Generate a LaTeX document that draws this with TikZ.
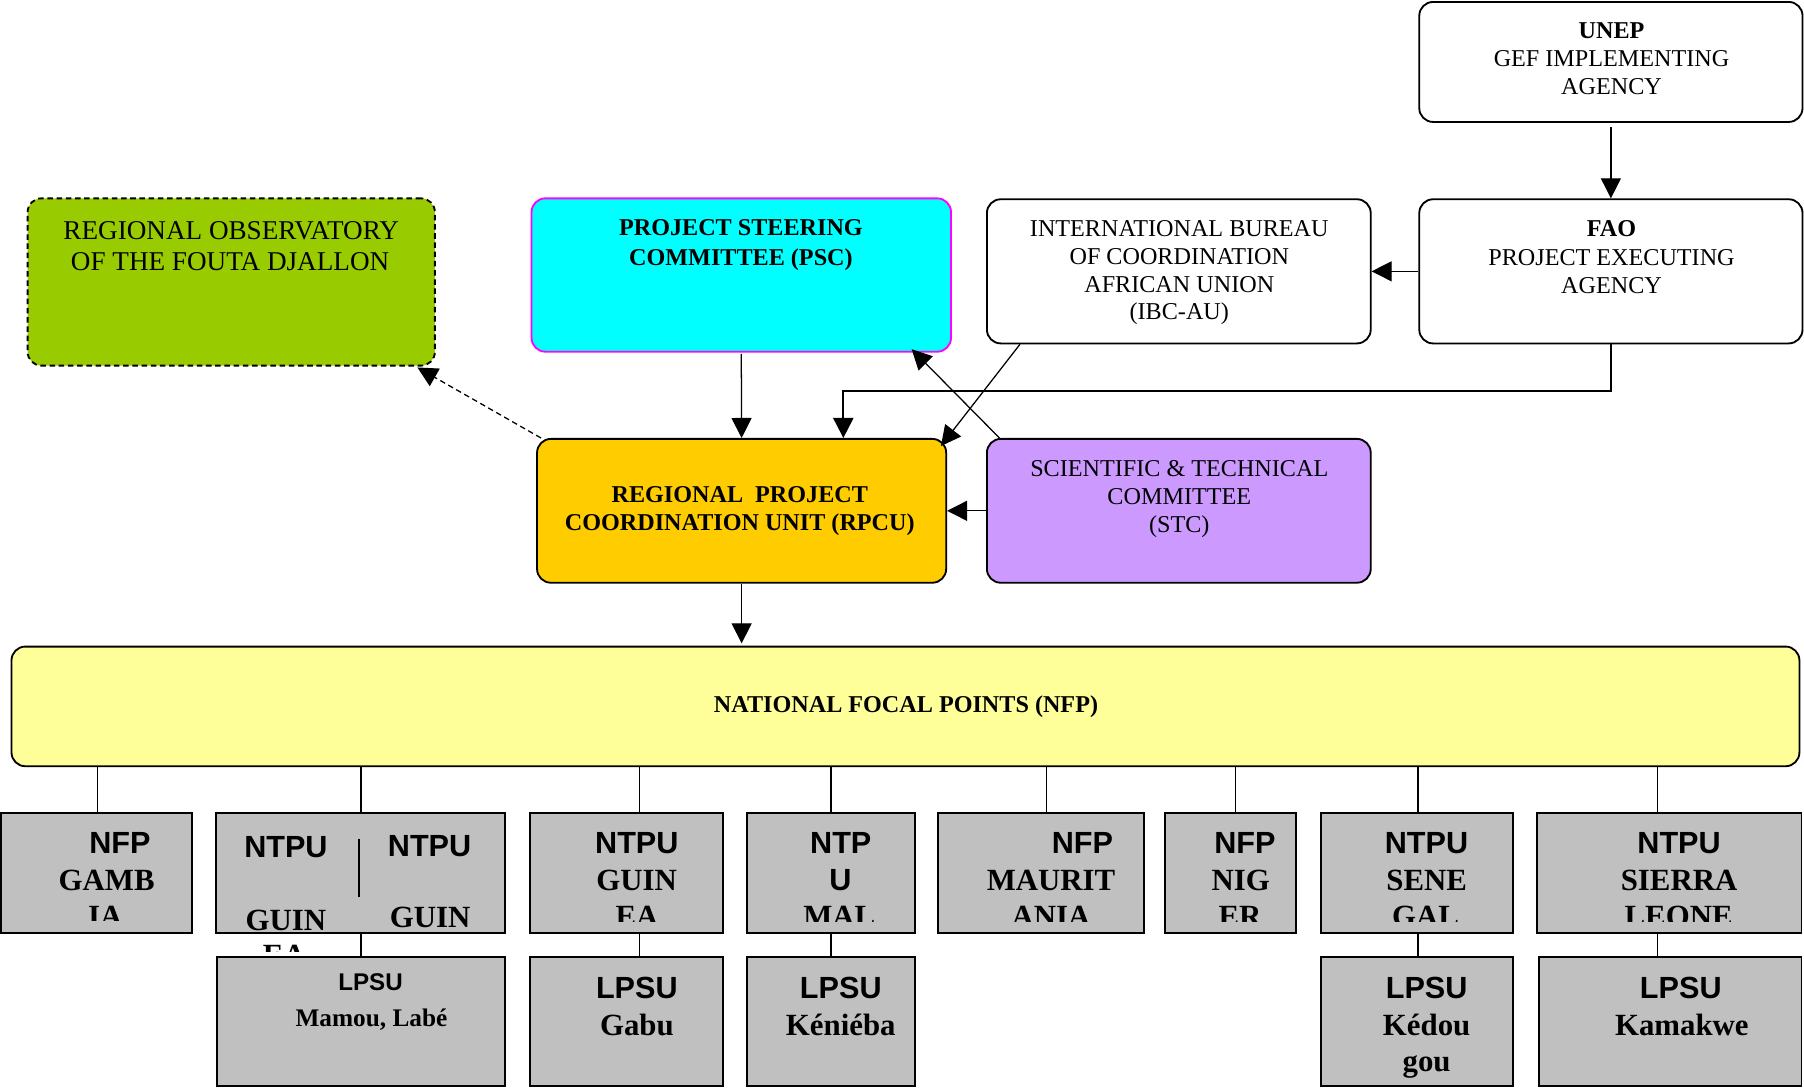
\documentclass[tikz,border=0pt]{standalone}
\usepackage{fontspec}
\setmainfont{Liberation Serif}
\newfontfamily\arialf{Liberation Sans}
\usetikzlibrary{fit,arrows.meta}
\definecolor{obsgreen}{HTML}{99CC00}
\definecolor{pscfill}{HTML}{00FFFF}
\definecolor{pscdraw}{HTML}{FF00FF}
\definecolor{rpcufill}{HTML}{FFCC00}
\definecolor{stcfill}{HTML}{CC99FF}
\definecolor{nfpfill}{HTML}{FFFF99}
\definecolor{unitgray}{HTML}{C0C0C0}
\newcommand\mytl[5]{\node[#1,anchor=base] (#2) at (#3,#4) {#5};}
\begin{document}
\begin{tikzpicture}[x=0.5pt,y=-0.5pt,
 rbox/.style={draw=black,line width=0.8pt,rounded corners=6pt,inner sep=0pt},
 ubox/.style={draw=black,line width=0.8pt,fill=unitgray,inner sep=0pt},
 link/.style={draw=black,line width=0.55pt},
 tip/.style={-{Triangle[length=8.7pt,width=8.7pt]}},
 arr/.style={link,tip},
 dsh/.style={dash pattern=on 2.4pt off 1.6pt},
 tn/.style={inner sep=0pt,font=\fontsize{10.5}{12}\selectfont},
 tb/.style={inner sep=0pt,font=\fontsize{10.5}{12}\selectfont\bfseries},
 tobs/.style={inner sep=0pt,font=\fontsize{11.8}{13}\selectfont},
 sbig/.style={inner sep=0pt,font=\arialf\bfseries\fontsize{13.3}{16}\selectfont},
 rbig/.style={inner sep=0pt,font=\bfseries\fontsize{13.4}{16}\selectfont},
 ssmall/.style={inner sep=0pt,font=\arialf\bfseries\fontsize{10.5}{12}\selectfont},
 rsmall/.style={inner sep=0pt,font=\bfseries\fontsize{11}{13}\selectfont},
]
\useasboundingbox (0,0) rectangle (1568,945);

% ---------- upper boxes ----------
\node[rbox,fill=obsgreen,dsh,fit={(24,172.4) (378,317.8)}] (obs) {};
\node[rbox,fill=pscfill,draw=pscdraw,fit={(462,172.4) (826.6,305.7)}] (psc) {};
\node[rbox,fill=white,fit={(857.8,173.2) (1191.4,298.5)}] (ibc) {};
\node[rbox,fill=white,fit={(1233.6,173.2) (1566.7,298.5)}] (fao) {};
\node[rbox,fill=white,fit={(1233.6,1.7) (1566.7,106)}] (unep) {};
\node[rbox,fill=rpcufill,fit={(466.8,381.5) (822.4,506.5)}] (rpcu) {};
\node[rbox,fill=stcfill,fit={(857.8,381.5) (1191.4,506.5)}] (stc) {};
\node[rbox,fill=nfpfill,fit={(10,562) (1564,666)}] (nfp) {};

\mytl{tobs}{obs1}{201}{208}{REGIONAL OBSERVATORY}
\mytl{tobs}{obs2}{200}{234.7}{OF THE FOUTA DJALLON}
\mytl{tb}{psc1}{644}{205.1}{PROJECT STEERING}
\mytl{tb}{psc2}{644}{231.2}{COMMITTEE (PSC)}
\mytl{tn}{ibc1}{1025}{205.6}{INTERNATIONAL BUREAU}
\mytl{tn}{ibc2}{1025}{230}{OF COORDINATION}
\mytl{tn}{ibc3}{1025}{254.3}{AFRICAN UNION}
\mytl{tn}{ibc4}{1025}{278}{(IBC-AU)}
\mytl{tb}{fao1}{1400.7}{205.6}{FAO}
\mytl{tn}{fao2}{1400.7}{230.5}{PROJECT EXECUTING}
\mytl{tn}{fao3}{1400.7}{254.7}{AGENCY}
\mytl{tb}{unep1}{1400.7}{33.5}{UNEP}
\mytl{tn}{unep2}{1400.7}{57.5}{GEF IMPLEMENTING}
\mytl{tn}{unep3}{1400.7}{81.9}{AGENCY}
\mytl{tb}{rpcu1}{643}{436.9}{REGIONAL\ \ PROJECT}
\mytl{tb}{rpcu2}{643}{461.3}{COORDINATION UNIT (RPCU)}
\mytl{tn}{stc1}{1025}{414.6}{SCIENTIFIC \& TECHNICAL}
\mytl{tn}{stc2}{1025}{438.6}{COMMITTEE}
\mytl{tn}{stc3}{1025}{462.6}{(STC)}
\mytl{tb}{nfp1}{787.5}{619}{NATIONAL FOCAL POINTS (NFP)}

% ---------- connectors (upper part) ----------
\draw[arr] ([yshift=-1.8pt]unep.south) -- (fao.north);
\draw[arr] (fao.west) -- (ibc.east);
\coordinate (elbow) at (733,340);
\draw[link,line width=0.9pt,tip] (fao.south) |- (elbow) -- (elbow |- rpcu.north);
\draw[arr] ([yshift=-0.5pt]psc.south) -- (rpcu.north);
\draw[arr] ([xshift=14.75pt]ibc.south west) -- ([xshift=-2.7pt,yshift=-3.5pt]rpcu.north east);
\draw[arr] ([xshift=5.85pt]stc.north west) -- ([xshift=-17.5pt,yshift=1.5pt]psc.south east);
\draw[arr] (stc.west) -- (rpcu.east |- stc.west);
\draw[arr,dsh] ([xshift=2.1pt]rpcu.north west) -- ([xshift=-8pt,yshift=-0.4pt]obs.south east);
\draw[arr] (rpcu.south) -- ([yshift=1pt]rpcu.south |- nfp.north);

% ---------- national units ----------
\node[ubox,fit={(1,707) (167.2,811.2)}] (gam) {};
\node[ubox,fit={(187.4,707) (438.8,811.2)}] (gui) {};
\node[ubox,fit={(460.8,707) (628.7,811.2)}] (gbi) {};
\node[ubox,fit={(649.3,707) (795.3,811.2)}] (mli) {};
\node[ubox,fit={(815.6,707) (994,811.2)}] (mrt) {};
\node[ubox,fit={(1012.5,707) (1126.7,811.2)}] (ner) {};
\node[ubox,fit={(1148.5,707) (1315.3,811.2)}] (sen) {};
\node[ubox,fit={(1336,707) (1565.8,811.2)}] (sle) {};

\node[ubox,fit={(188.8,831.5) (438.8,944)}] (lmam) {};
\node[ubox,fit={(460.8,831.5) (628.7,944)}] (lgab) {};
\node[ubox,fit={(649.3,831.5) (795.3,944)}] (lken) {};
\node[ubox,fit={(1148.5,831.5) (1315.3,944)}] (lked) {};
\node[ubox,fit={(1337.4,831.5) (1565.8,944)}] (lkam) {};

% drops from NFP bar
\draw[link] ([xshift=0.3pt]gam.north) -- ([xshift=0.3pt]gam.north |- nfp.south);
\draw[link] ([xshift=0.35pt]gui.north) -- ([xshift=0.35pt]gui.north |- nfp.south);
\draw[link] ([xshift=5.45pt]gbi.north) -- ([xshift=5.45pt]gbi.north |- nfp.south);
\draw[link] (mli.north) -- (mli.north |- nfp.south);
\draw[link] ([xshift=2.4pt]mrt.north) -- ([xshift=2.4pt]mrt.north |- nfp.south);
\draw[link] ([xshift=2pt]ner.north) -- ([xshift=2pt]ner.north |- nfp.south);
\draw[link] ([xshift=0.25pt]sen.north) -- ([xshift=0.25pt]sen.north |- nfp.south);
\draw[link] ([xshift=-5pt]sle.north) -- ([xshift=-5pt]sle.north |- nfp.south);
% links to local units
\draw[link] ([xshift=0.35pt]gui.south) -- ([xshift=0.35pt]gui.south |- lmam.north);
\draw[link] ([xshift=5.45pt]gbi.south) -- ([xshift=5.45pt]gbi.south |- lgab.north);
\draw[link] (mli.south) -- (mli.south |- lken.north);
\draw[link] ([xshift=0.25pt]sen.south) -- ([xshift=0.25pt]sen.south |- lked.north);
\draw[link] ([xshift=-5pt]sle.south) -- ([xshift=-5pt]sle.south |- lkam.north);
\coordinate (divtop) at (312,729);
\coordinate (divbot) at (312,779.6);
\draw[link] (divtop) -- (divbot);

% texts, clipped like the reference
\begin{scope}
\clip (1,707) rectangle (167.2,800.5);
\mytl{sbig}{gam1}{104.2}{741.7}{NFP}
\mytl{rbig}{gam2}{92.7}{773.8}{GAMB}
\mytl{rbig}{gam3}{91.4}{805.5}{IA}
\end{scope}
\begin{scope}
\clip (187.4,707) rectangle (312,826.6);
\mytl{sbig}{guiL1}{248.5}{745.5}{NTPU}
\mytl{rbig}{guiL2}{248.5}{808.4}{GUIN}
\mytl{rbig}{guiL3}{247}{839.3}{EA}
\end{scope}
\begin{scope}
\clip (312,707) rectangle (438.8,805.8);
\mytl{sbig}{guiR1}{373.4}{744.4}{NTPU}
\mytl{rbig}{guiR2}{373.8}{806.1}{GUIN}
\end{scope}
\begin{scope}
\clip (460.8,707) rectangle (628.7,801);
\mytl{sbig}{gbi1}{553.5}{741.7}{NTPU}
\mytl{rbig}{gbi2}{553.3}{773.8}{GUIN}
\mytl{rbig}{gbi3}{553.6}{805.5}{EA}
\end{scope}
\begin{scope}
\clip (649.3,707) rectangle (795.3,801);
\mytl{sbig}{mli1}{730.8}{741.7}{NTP}
\mytl{sbig}{mli2}{730.5}{773.8}{U}
\mytl{rbig}{mli3}{729.5}{805.5}{MAL}
\end{scope}
\begin{scope}
\clip (815.6,707) rectangle (994,801);
\mytl{sbig}{mrt1}{940.8}{741.7}{NFP}
\mytl{rbig}{mrt2}{913.5}{773.8}{MAURIT}
\mytl{rbig}{mrt3}{913.5}{805.5}{ANIA}
\end{scope}
\begin{scope}
\clip (1012.5,707) rectangle (1126.7,801);
\mytl{sbig}{ner1}{1082}{741.7}{NFP}
\mytl{rbig}{ner2}{1078.4}{773.8}{NIG}
\mytl{rbig}{ner3}{1077.8}{805.5}{ER}
\end{scope}
\begin{scope}
\clip (1148.5,707) rectangle (1315.3,801);
\mytl{sbig}{sen1}{1239.9}{741.7}{NTPU}
\mytl{rbig}{sen2}{1240}{773.8}{SENE}
\mytl{rbig}{sen3}{1239}{805.5}{GAL}
\end{scope}
\begin{scope}
\clip (1336,707) rectangle (1565.8,801);
\mytl{sbig}{sle1}{1459.4}{741.7}{NTPU}
\mytl{rbig}{sle2}{1459.4}{773.8}{SIERRA}
\mytl{rbig}{sle3}{1459}{805.5}{LEONE}
\end{scope}

\mytl{ssmall}{lmam1}{322.1}{861}{LPSU}
\mytl{rsmall}{lmam2}{322.9}{892.4}{Mamou, Labé}
\mytl{sbig}{lgab1}{553.5}{867.7}{LPSU}
\mytl{rbig}{lgab2}{553.6}{899.6}{Gabu}
\mytl{sbig}{lken1}{730.8}{867.7}{LPSU}
\mytl{rbig}{lken2}{730.8}{899.6}{Kéniéba}
\mytl{sbig}{lked1}{1240}{867.7}{LPSU}
\mytl{rbig}{lked2}{1240}{899.6}{Kédou}
\mytl{rbig}{lked3}{1240}{931.6}{gou}
\mytl{sbig}{lkam1}{1460.9}{867.7}{LPSU}
\mytl{rbig}{lkam2}{1461.8}{899.6}{Kamakwe}
\end{tikzpicture}
\end{document}
